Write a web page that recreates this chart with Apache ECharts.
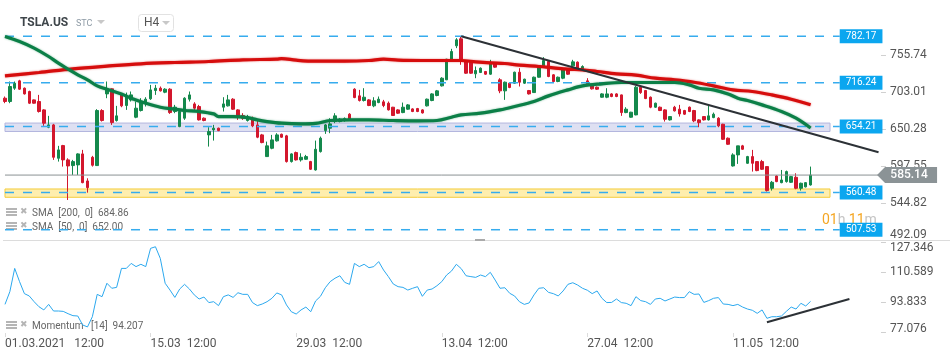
<!DOCTYPE html>
<html><head><meta charset="utf-8">
<script src="https://cdn.jsdelivr.net/npm/echarts@6/dist/echarts.min.js"></script>
<style>html,body{margin:0;padding:0;background:#fff}#c{width:950px;height:360px}</style>
</head><body><div id="c"></div>
<script>
// ---------- DATA ----------
const SLOT_COUNT = 181;
const xTickIndex = [0, 30, 60, 90, 120, 150];
const xTickLabels = ['01.03.2021   12:00', '15.03  12:00', '29.03  12:00', '13.04  12:00', '27.04  12:00', '11.05  12:00'];
const mainTicks = [492.09, 544.82, 597.55, 650.28, 703.01, 755.74];
const momTicks = [77.076, 93.833, 110.589, 127.346];

// [open, close, low, high]
const candles = [
[694.3,689.6,687.2,696.7],[689.6,710.9,687.2,718.0],[708.5,715.6,706.1,718.0],[718.9,707.1,706.1,720.4],[708.5,700.4,699.5,709.5],
[703.8,687.2,686.0,705.0],[691.9,687.2,686.5,692.5],[689.6,675.4,673.9,699.0],[677.7,658.8,655.0,678.7],[653.1,656.4,651.7,669.2],
[656.4,610.4,606.7,657.8],[609.0,620.9,604.3,626.6],[627.0,606.7,597.2,628.0],[606.7,598.1,549.8,609.0],[598.6,604.3,585.3,606.7],
[599.6,615.2,585.3,616.1],[615.2,574.4,573.5,620.9],[576.8,567.3,560.2,580.6],[610.4,599.1,597.2,612.4],[598.6,676.8,598.0,678.7],
[676.8,662.6,661.1,678.7],[700.4,706.1,694.3,718.0],[707.6,659.7,656.4,708.5],[662.6,669.2,661.1,683.4],[700.4,683.4,681.5,700.9],
[683.9,696.7,677.7,702.3],[691.9,699.0,689.6,703.8],[667.3,680.1,665.9,689.6],[676.8,689.6,675.4,694.3],[687.2,692.9,682.5,695.7],
[693.4,706.1,691.9,713.2],[705.2,708.5,699.0,713.2],[708.5,704.7,703.8,710.9],[702.8,707.1,701.4,708.5],[707.1,673.9,672.0,708.5],
[675.4,681.5,673.0,684.8],[654.0,675.4,653.1,677.7],[665.9,694.3,663.5,695.7],[692.9,699.0,689.6,703.8],[686.2,680.1,677.7,688.6],
[682.5,663.5,662.6,684.8],[665.9,662.6,661.5,667.0],[642.2,646.9,625.6,653.1],[649.3,651.7,634.1,656.4],[651.7,648.3,647.5,652.5],
[681.5,686.2,675.4,695.7],[683.4,691.9,682.5,699.0],[692.9,678.7,677.7,694.3],[677.7,668.2,663.5,678.7],[669.7,665.9,663.5,673.0],
[662.6,668.2,661.1,670.6],[664.4,655.0,653.1,668.2],[656.4,638.9,637.5,663.5],[642.2,631.3,630.3,643.6],[611.4,626.6,611.0,632.7],
[623.2,635.1,621.8,642.2],[633.7,642.2,632.7,644.6],[643.1,638.9,638.0,644.0],[640.8,604.3,602.9,642.2],[604.3,615.2,602.9,616.1],
[617.1,606.7,605.7,618.5],[606.7,610.4,604.3,616.1],[607.6,611.4,606.7,613.8],[604.3,593.4,592.4,605.3],[592.4,621.8,591.5,634.1],
[618.5,637.5,617.1,639.8],[648.3,656.4,643.6,657.8],[651.7,657.8,644.6,665.9],[661.1,669.2,658.8,673.0],[661.1,664.4,660.0,666.0],
[662.6,665.4,661.0,667.0],[671.6,663.5,662.6,673.0],[707.1,695.2,694.3,708.5],[697.6,691.0,689.6,706.1],[691.0,695.7,689.6,708.5],
[691.9,683.9,683.0,693.0],[683.4,690.5,681.5,695.7],[688.1,692.9,687.2,696.7],[689.1,683.9,681.5,691.9],[687.2,677.7,676.8,689.6],
[681.5,669.7,669.2,682.0],[677.7,673.0,672.0,678.7],[673.9,681.5,673.0,688.1],[678.7,684.8,677.7,686.0],[679.1,675.4,674.5,680.0],
[679.6,675.4,674.5,680.5],[677.7,673.4,672.5,678.7],[683.4,692.9,682.5,693.8],[691.0,700.4,690.0,701.4],[698.1,704.7,697.0,706.0],
[711.8,722.7,710.9,724.1],[720.4,749.7,720.0,750.2],[749.7,760.6,748.8,764.4],[768.7,777.2,765.4,779.6],[778.6,749.7,741.7,782.17],
[746.4,729.8,728.9,747.4],[745.0,729.8,729.0,746.0],[728.9,733.6,722.7,739.3],[730.8,736.9,730.0,738.0],[732.2,728.4,727.5,733.0],
[728.4,744.0,727.5,748.8],[744.0,738.4,737.5,745.0],[720.4,704.7,701.4,722.7],[704.7,717.0,691.9,718.0],[715.6,709.5,708.5,716.5],
[715.6,731.2,714.5,732.0],[731.2,717.0,710.9,736.9],[715.6,721.3,714.5,722.0],[705.2,700.4,699.5,706.0],[702.3,724.1,702.0,725.0],
[724.1,740.2,723.5,741.0],[740.2,747.8,739.3,752.6],[746.4,725.1,724.1,747.8],[727.5,718.0,717.0,728.5],[718.0,724.1,717.0,725.0],
[722.7,735.5,721.3,736.9],[734.6,728.4,727.5,735.5],[740.2,745.9,739.3,748.8],[745.5,736.9,736.0,746.5],[734.6,739.3,734.0,741.0],
[718.9,714.7,713.8,722.7],[713.2,707.6,706.6,714.0],[709.9,707.1,706.1,710.9],[695.7,700.4,695.0,701.4],[695.7,700.4,694.3,708.5],
[700.4,696.7,695.7,701.4],[700.4,696.7,695.7,701.4],[699.0,673.9,669.2,699.5],[673.9,678.7,673.0,681.5],[667.3,674.4,666.5,675.0],
[670.6,709.9,670.0,711.8],[709.9,702.3,700.4,711.8],[705.2,693.8,693.0,706.0],[695.7,681.5,680.1,696.7],[681.5,687.2,680.5,688.0],
[681.5,676.8,676.0,682.5],[677.7,664.4,661.1,678.7],[663.5,668.2,662.6,669.0],[681.5,676.3,675.4,683.4],[678.7,672.0,668.2,684.8],
[676.8,671.6,670.6,677.7],[681.5,675.4,674.5,682.5],[676.8,662.1,660.2,677.7],[663.5,659.7,653.1,664.4],[668.2,663.5,662.6,669.0],
[663.5,669.2,662.6,683.4],[666.8,671.6,665.9,673.9],[665.9,655.0,653.1,667.3],[657.3,636.0,635.0,658.0],[637.5,628.9,628.0,638.5],
[598.1,613.8,597.2,616.1],[613.8,626.6,601.0,626.6],[626.6,621.8,620.9,628.0],[601.9,611.4,601.0,612.4],[611.4,601.9,590.1,620.9],
[604.3,591.5,590.6,605.0],[604.3,593.4,592.4,606.7],[597.2,563.1,561.7,597.2],[566.4,574.9,563.1,576.8],[583.9,575.9,575.0,585.0],
[574.4,578.2,573.5,592.4],[575.9,590.1,574.4,591.5],[574.9,583.0,574.0,584.0],[582.0,566.4,565.0,587.7],[566.4,573.5,563.1,574.4],
[568.4,574.4,567.5,575.3],[571.1,585.14,570.2,597.2]
];

const momentum = [
92.5,99.6,112.6,105.2,98.5,97.2,94.0,91.2,89.4,92.5,
88.8,88.8,88.6,87.3,86.2,86.0,81.0,79.9,85.6,98.1,
96.8,104.3,101.5,102.0,112.6,112.6,115.4,113.6,114.9,113.6,
123.8,124.7,118.2,104.3,100.5,96.4,101.1,103.7,101.1,97.8,
95.5,96.6,93.5,94.0,91.8,96.8,97.8,96.4,99.0,98.1,
98.1,93.5,91.8,92.7,94.0,95.9,98.9,97.8,92.2,88.4,
87.1,89.4,91.0,88.4,94.4,97.0,101.8,105.2,107.1,108.5,
104.8,103.7,115.4,113.6,114.9,113.0,113.6,116.4,111.7,108.0,
103.9,102.4,102.0,100.5,101.5,102.4,97.0,100.5,101.1,102.9,
105.2,108.9,111.1,114.9,112.5,108.5,108.0,107.6,108.9,108.0,
110.4,106.1,101.5,101.8,98.7,97.2,94.0,92.5,93.3,97.8,
101.5,101.8,99.2,98.5,97.2,100.0,103.7,104.6,103.3,101.5,
100.4,98.5,100.0,95.9,93.5,93.6,95.5,93.5,93.1,91.8,
96.8,94.6,94.0,92.5,95.5,95.9,94.4,95.5,96.6,96.3,
96.3,99.6,98.1,98.3,93.6,94.6,95.9,96.3,92.7,92.5,
91.8,92.5,91.0,89.9,89.2,87.5,89.4,84.7,85.6,85.6,
86.0,88.6,91.0,89.9,93.1,91.6,94.2
];

// [candle index, value] read along the moving averages
const sma200 = [[0,726.0],[7,730.8],[14,736.0],[21,739.8],[28,743.1],[35,745.0],[42,746.4],[49,748.8],[56,749.7],[57,750.5],
[60,748.3],[64,746.9],[70,746.9],[75,747.8],[78,749.7],[81,748.3],[86,747.8],[94,747.8],[97,745.9],[100,744.5],[103,743.6],
[106,741.2],[110,739.3],[113,737.4],[116,735.5],[119,734.6],[122,732.2],[126,728.9],[130,727.0],[134,722.7],[138,720.4],
[142,717.0],[146,711.8],[150,706.1],[154,703.8],[158,699.0],[162,692.9],[166,684.86]];
const sma50 = [[0,781.9],[3,774.8],[6,765.4],[9,753.5],[11,744.0],[13,735.5],[15,727.5],[17,720.4],[19,711.8],[21,707.1],
[24,700.4],[26,694.3],[29,687.2],[32,681.5],[35,678.7],[37,676.8],[40,675.4],[43,672.0],[44,668.2],[47,668.2],[50,666.8],
[52,663.5],[54,661.1],[57,658.8],[61,657.8],[64,658.5],[67,662.6],[71,663.5],[75,663.5],[80,662.6],[85,662.1],[89,662.6],
[92,667.3],[94,670.6],[98,673.0],[102,677.7],[105,682.5],[109,689.6],[112,697.6],[116,706.1],[119,711.8],[123,714.7],
[127,716.6],[132,716.6],[138,716.6],[141,713.2],[143,708.5],[146,706.1],[149,700.4],[151,694.3],[153,691.0],[156,684.8],
[160,675.4],[163,665.9],[166,652.0]];

const levels = [782.17, 716.24, 654.21, 560.48, 507.53];
const zones = [[647.0, 659.0], [553.6, 565.4]];
const lastPrice = 585.14;
const trendMain = [[94, 782.17], [180, 617.6]];
const trendMom = [[157, 82.5], [174, 95.5]];
const legendSma200 = 684.86, legendSma50 = 652.00, legendMom = 94.207;

// ---------- CHART ----------
const categories = Array.from({length: SLOT_COUNT}, (_, i) => {
  const k = xTickIndex.indexOf(i); return k >= 0 ? xTickLabels[k] : '';
});
const showTick = (i) => xTickIndex.indexOf(i) >= 0;
const FONT = 'Roboto';
const near = (a, b) => Math.abs(a - b) < 1e-6;

const levelSeries = levels.map(v => ({
  type: 'line', xAxisIndex: 0, yAxisIndex: 0, z: 3,
  data: [[0, v], [172, v]], showSymbol: false, silent: true,
  lineStyle: {color: '#36acee', width: 1.5, type: [9, 9]},
  endLabel: {show: true, formatter: () => v.toFixed(2), distance: 0, backgroundColor: '#0ba6ef',
    color: '#fff', fontSize: 10, lineHeight: 10, padding: [2, 6, 2, 6], fontFamily: FONT}
}));

const option = {
  animation: false,
  textStyle: {fontFamily: FONT},
  grid: [
    {left: 2.57, width: 878.4, top: 22, height: 218.6},
    {left: 2.57, width: 878.4, top: 240, height: 93}
  ],
  xAxis: [
    {gridIndex: 0, type: 'category', data: categories, boundaryGap: true,
      axisLine: {show: false}, axisTick: {show: false}, axisLabel: {show: false}, splitLine: {show: false}},
    {gridIndex: 1, type: 'category', data: categories, boundaryGap: true,
      axisLine: {show: false},
      axisTick: {show: true, alignWithLabel: true, interval: showTick, length: 4, lineStyle: {color: '#dcdcdc'}},
      axisLabel: {interval: showTick, align: 'left', margin: 5, color: '#555', fontSize: 12, fontFamily: FONT},
      splitLine: {show: false}}
  ],
  yAxis: [
    {gridIndex: 0, type: 'value', position: 'right', min: 492.09, max: 802.5,
      splitLine: {show: false}, axisLine: {show: false},
      axisTick: {show: true, length: 5, lineStyle: {color: '#d0d0d0'}, customValues: mainTicks},
      axisLabel: {customValues: mainTicks, margin: 9, color: '#555', fontSize: 12, fontFamily: FONT,
        formatter: v => near(v, mainTicks[0]) ? '{lo|' + v.toFixed(2) + '}' : v.toFixed(2),
        rich: {lo: {padding: [0, 0, 12, 0], color: '#555', fontSize: 12, fontFamily: FONT}}}},
    {gridIndex: 1, type: 'value', position: 'right', min: 76.51, max: 128.47,
      splitLine: {show: false}, axisLine: {show: false},
      axisTick: {show: true, length: 5, lineStyle: {color: '#d0d0d0'}, customValues: momTicks},
      axisLabel: {customValues: momTicks, margin: 9, color: '#555', fontSize: 12, fontFamily: FONT,
        formatter: v => near(v, momTicks[3]) ? '{hi|' + v.toFixed(3) + '}' :
                       (near(v, momTicks[0]) ? '{lo|' + v.toFixed(3) + '}' : v.toFixed(3)),
        rich: {hi: {padding: [12, 0, 0, 0], color: '#555', fontSize: 12, fontFamily: FONT},
               lo: {padding: [0, 0, 6, 0], color: '#555', fontSize: 12, fontFamily: FONT}}}}
  ],
  series: [
    {type: 'candlestick', xAxisIndex: 0, yAxisIndex: 0, data: candles, barWidth: 3, z: 2,
      itemStyle: {color: '#14894c', color0: '#d3172d', borderColor: '#14894c', borderColor0: '#d3172d', borderWidth: 1}},
    {type: 'line', xAxisIndex: 0, yAxisIndex: 0, data: sma200, smooth: 0.35, showSymbol: false, z: 4,
      lineStyle: {color: '#d60d0d', width: 3.2, shadowColor: 'rgba(214,13,13,0.55)', shadowBlur: 2}},
    {type: 'line', xAxisIndex: 0, yAxisIndex: 0, data: sma50, smooth: 0.35, showSymbol: false, z: 4,
      lineStyle: {color: '#0b7f47', width: 3.2, shadowColor: 'rgba(11,127,71,0.55)', shadowBlur: 2}},
    ...levelSeries,
    {type: 'line', xAxisIndex: 0, yAxisIndex: 0, data: [[0, lastPrice], [180, lastPrice]], showSymbol: false, z: 5,
      lineStyle: {color: '#8b9194', width: 1},
      markPoint: {symbol: 'path://M0,8L8,0L60,0L60,16L8,16Z', symbolSize: [60, 16], symbolOffset: [28.5, 0],
        itemStyle: {color: '#8b9396'},
        label: {show: true, formatter: lastPrice.toFixed(2), color: '#fff', fontSize: 12, fontWeight: 500, offset: [2, 0], fontFamily: FONT},
        data: [{coord: [180, lastPrice]}]}},
    {type: 'line', xAxisIndex: 0, yAxisIndex: 0, data: trendMain, showSymbol: false, z: 6,
      lineStyle: {color: '#2c3136', width: 2}},
    {type: 'line', xAxisIndex: 0, yAxisIndex: 0, data: [], z: 8, silent: true,
      markArea: {silent: true, data: [
        [{coord: [0, zones[0][1]], itemStyle: {color: 'rgba(200,203,234,0.6)', borderColor: '#b3b6de', borderWidth: 1}}, {coord: [170, zones[0][0]]}],
        [{coord: [0, zones[1][1]], itemStyle: {color: 'rgba(253,227,120,0.6)', borderColor: '#f4cd3c', borderWidth: 1}}, {coord: [170, zones[1][0]]}]
      ]}},
    {type: 'line', xAxisIndex: 1, yAxisIndex: 1, data: momentum, showSymbol: false, z: 3,
      lineStyle: {color: '#2ba8ee', width: 1}},
    {type: 'line', xAxisIndex: 1, yAxisIndex: 1, data: trendMom, showSymbol: false, z: 4,
      lineStyle: {color: '#2c3136', width: 2}}
  ],
  graphic: [
    {type: 'line', z: 1, shape: {x1: 3, y1: 240.5, x2: 950, y2: 240.5}, style: {stroke: '#dcdcdc', lineWidth: 1}},
    {type: 'rect', z: 1, shape: {x: 475, y: 239, width: 10, height: 2}, style: {fill: '#aaaaaa'}},
    {type: 'text', z: 1, x: 20, y: 23, style: {text: 'TSLA.US', fontSize: 12, fontWeight: 'bold', fontFamily: FONT, fill: '#3e454a', verticalAlign: 'middle'}},
    {type: 'text', z: 1, x: 76, y: 24, style: {text: 'STC', fontSize: 9, fontFamily: FONT, fill: '#8d9aa5', verticalAlign: 'middle'}},
    {type: 'polygon', z: 1, shape: {points: [[97, 20], [105, 20], [101, 24]]}, style: {fill: '#c8c8c8'}},
    {type: 'rect', z: 1, shape: {x: 138.5, y: 14.5, width: 35, height: 17, r: 3}, style: {fill: '#fff', stroke: '#e2e2e2', lineWidth: 1}},
    {type: 'text', z: 1, x: 144, y: 23, style: {text: 'H4', fontSize: 12, fontFamily: FONT, fill: '#555', verticalAlign: 'middle'}},
    {type: 'polygon', z: 1, shape: {points: [[162, 21], [170, 21], [166, 25]]}, style: {fill: '#c8c8c8'}},
    // legend rows
    ...[[213, 'SMA  [200,  0]  ' + legendSma200.toFixed(2)], [227, 'SMA  [50,  0]  ' + legendSma50.toFixed(2)], [326, 'Momentum   [14]  ' + legendMom.toFixed(3)]]
      .flatMap(([y, t]) => [
        {type: 'rect', z: 1, shape: {x: 6, y: y - 5, width: 11, height: 2}, style: {fill: '#b5b5b5'}},
        {type: 'rect', z: 1, shape: {x: 6, y: y - 2, width: 11, height: 2}, style: {fill: '#b5b5b5'}},
        {type: 'rect', z: 1, shape: {x: 6, y: y + 1, width: 11, height: 2}, style: {fill: '#b5b5b5'}},
        {type: 'text', z: 1, x: 20, y: y - 1, style: {text: '✖', fontSize: 9, fontFamily: 'DejaVu Sans', fill: '#b5b5b5', verticalAlign: 'middle'}},
        {type: 'text', z: 1, x: 32, y: y, style: {text: t, fontSize: 10, fontFamily: FONT, fill: '#666', verticalAlign: 'middle'}}
      ]),
    {type: 'text', z: 1, x: 822, y: 220, style: {text: '{o|01}{g|h} {o|11}{g|m}', verticalAlign: 'middle',
      rich: {o: {fill: '#f5a623', fontSize: 14, fontFamily: FONT}, g: {fill: '#c4c4c4', fontSize: 14, fontFamily: FONT}}}}
  ]
};
echarts.init(document.getElementById('c'), null, {renderer: 'canvas'}).setOption(option);
</script></body></html>
